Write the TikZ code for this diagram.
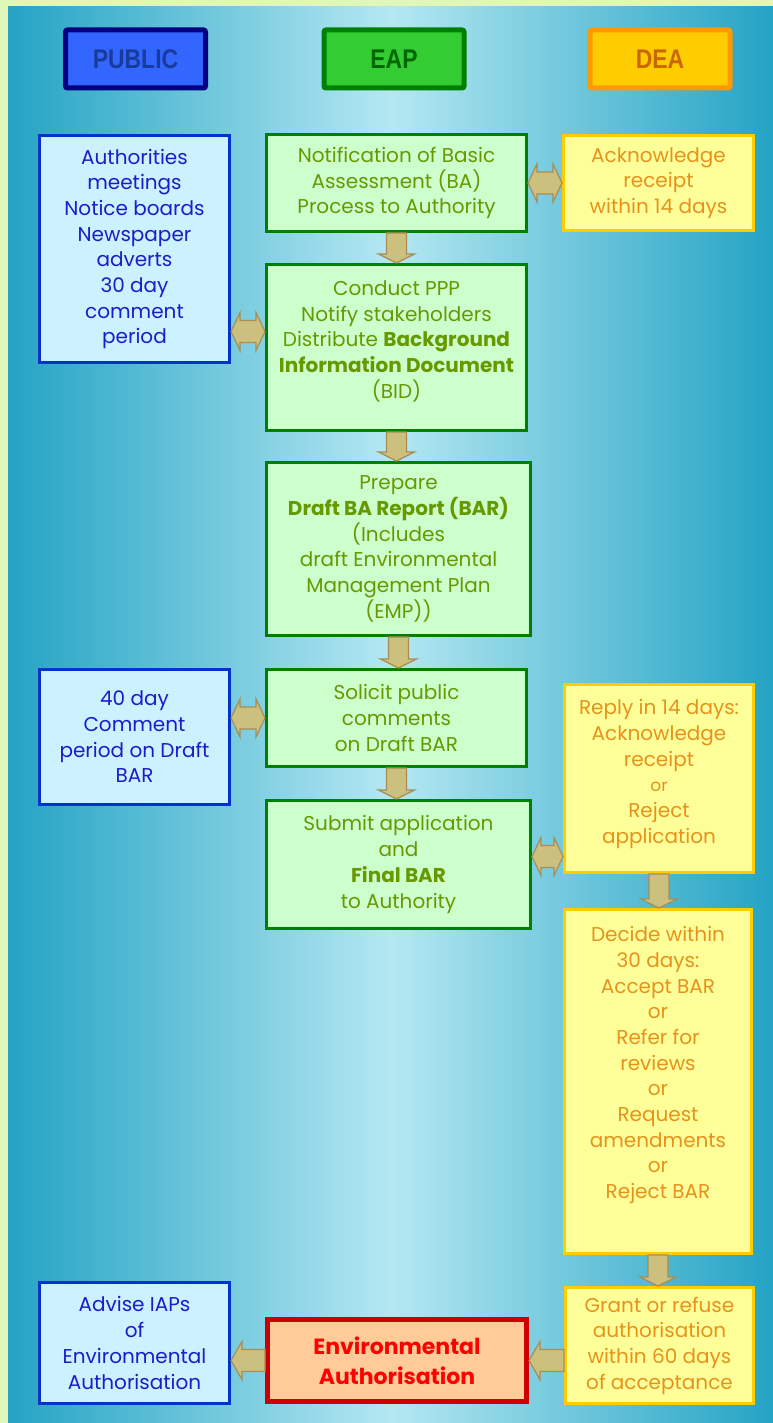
\documentclass[tikz,border=0pt]{standalone}
\usepackage[rgb]{xcolor}
\usepackage{fontspec}
\setmainfont{Poppins}
\newfontfamily\hdfont[FakeStretch=0.85]{Liberation Sans}
\usepackage{tikz}
\usetikzlibrary{calc}

\definecolor{frame}{HTML}{DFF7B8}
\definecolor{sea}{HTML}{24A3C4}
\definecolor{pale}{HTML}{B4E8F2}
\definecolor{hpubfill}{HTML}{3366FF}
\definecolor{hpubline}{HTML}{000080}
\definecolor{hpubtext}{HTML}{173C9C}
\definecolor{heapfill}{HTML}{33CC33}
\definecolor{heaptext}{HTML}{006600}
\definecolor{hdealine}{HTML}{FF9900}
\definecolor{hdeatext}{HTML}{CC6600}
\definecolor{pubfill}{HTML}{CCF2FF}
\definecolor{publine}{HTML}{0033CC}
\definecolor{pubtext}{HTML}{1C1CCB}
\definecolor{eapfill}{HTML}{CCFFCC}
\definecolor{eapline}{HTML}{008000}
\definecolor{eaptext}{HTML}{669900}
\definecolor{deafill}{HTML}{FFFF99}
\definecolor{dealine}{HTML}{FFCC00}
\definecolor{deatext}{HTML}{E6921C}
\definecolor{finfill}{HTML}{FFCC99}
\definecolor{finline}{HTML}{CC0000}
\definecolor{blkfill}{HTML}{CCC07F}
\definecolor{blkline}{HTML}{A88D55}

% block arrows: down (top, tip), double (left tip, right tip), left (tail, tip)
\newcommand{\dnblk}[2]{\filldraw[blk] ($(#1)+(-10,0)$) -- ($(#2)+(-10,-9)$) -- ($(#2)+(-18,-9)$) -- (#2)
  -- ($(#2)+(18,-9)$) -- ($(#2)+(10,-9)$) -- ($(#1)+(10,0)$) -- cycle;}
\newcommand{\dblblk}[2]{\filldraw[blk] (#1) -- ($(#1)+(9,-19)$) -- ($(#1)+(9,-11)$) -- ($(#2)+(-9,-11)$)
  -- ($(#2)+(-9,-19)$) -- (#2) -- ($(#2)+(-9,19)$) -- ($(#2)+(-9,11)$) -- ($(#1)+(9,11)$) -- ($(#1)+(9,19)$) -- cycle;}
\newcommand{\ltblk}[2]{\filldraw[blk] ($(#1)+(0,-11)$) -- ($(#2)+(11,-11)$) -- ($(#2)+(11,-19)$) -- (#2)
  -- ($(#2)+(11,19)$) -- ($(#2)+(11,11)$) -- ($(#1)+(0,11)$) -- cycle;}

\begin{document}
\begin{tikzpicture}[x=1pt, y=-1pt,
  hdbox/.style={draw, line width=5pt, rounded corners=2pt, minimum width=140pt, minimum height=58pt,
    font=\hdfont\bfseries\fontsize{27}{30}\selectfont},
  box/.style={draw, line width=3pt, align=center, inner sep=0pt, font=\fontsize{20}{25.7}\selectfont},
  pubbox/.style={box, draw=publine, fill=pubfill, text=pubtext, minimum width=190pt},
  eapbox/.style={box, draw=eapline, fill=eapfill, text=eaptext},
  deabox/.style={box, draw=dealine, fill=deafill, text=deatext},
  blk/.style={fill=blkfill, draw=blkline, line width=1.2pt, line join=miter}]

\useasboundingbox (0,0) rectangle (773,1423);

% background
\fill[frame] (0,0) rectangle (773,1423);
\shade[left color=sea, right color=sea, middle color=pale] (8,7) rectangle (773,1423);

% column heads
\node[hdbox, draw=hpubline, fill=hpubfill, text=hpubtext] (hpub) at (135.5,59) {PUBLIC};
\node[hdbox, draw=eapline, fill=heapfill, text=heaptext] (heap) at (394,59) {EAP};
\node[hdbox, draw=hdealine, fill=dealine, text=hdeatext] (hdea) at (660,59) {DEA};

% public column
\node[pubbox, minimum height=227pt] (p1) at (134.5,249)
  {Authorities\\meetings\\Notice boards\\Newspaper\\adverts\\30 day\\comment\\period};
\node[pubbox, minimum height=135pt] (p2) at (134.5,737)
  {40 day\\Comment\\period on Draft\\BAR};
\node[pubbox, minimum height=121pt] (p3) at (134.5,1343)
  {Advise IAPs\\of\\Environmental\\Authorisation};

% EAP column
\node[eapbox, minimum width=260pt, minimum height=97pt] (e1) at (396.5,183)
  {Notification of Basic\\Assessment (BA)\\Process to Authority};
\node[eapbox, minimum width=260pt, minimum height=166pt] (e2) at (396.5,347.5)
  {Conduct PPP\\Notify stakeholders\\Distribute \textbf{Background}\\\textbf{Information Document}\\(BID)\rule[-16pt]{0pt}{16pt}};
\node[eapbox, minimum width=264pt, minimum height=173pt] (e3) at (398.5,549)
  {Prepare\\\textbf{Draft BA Report (BAR)}\\(Includes\\draft Environmental\\Management Plan\\(EMP))};
\node[eapbox, minimum width=260pt, minimum height=97pt] (e4) at (396.5,718)
  {Solicit public\\comments\\on Draft BAR};
\node[eapbox, minimum width=264pt, minimum height=128pt] (e5) at (398.5,864.5)
  {Submit application\\and\\\textbf{Final BAR}\\to Authority};
\node[box, draw=finline, fill=finfill, text=red, line width=5pt,
  minimum width=259pt, minimum height=82pt, font=\bfseries\fontsize{22}{30}\selectfont] (fin) at (397,1360.5)
  {Environmental\\Authorisation};

% DEA column
\node[deabox, minimum width=190pt, minimum height=95pt] (d1) at (658.5,183)
  {Acknowledge\\receipt\\within 14 days};
\node[deabox, minimum width=189pt, minimum height=188pt] (d2) at (659,778.5)
  {Reply in 14 days:\\Acknowledge\\receipt\\{\fontsize{17}{25.7}\selectfont or}\\Reject\\application\rule[-14pt]{0pt}{14pt}};
\node[deabox, minimum width=187pt, minimum height=344pt] (d3) at (658,1081.5)
  {Decide within\\30 days:\\Accept BAR\\or\\Refer for\\reviews\\or\\Request\\amendments\\or\\Reject BAR\rule[-38pt]{0pt}{38pt}};
\node[deabox, minimum width=188pt, minimum height=116pt] (d4) at (659.5,1345.5)
  {Grant or refuse\\authorisation\\within 60 days\\of acceptance};

% down arrows
\foreach \a/\b in {e1/e2, e2/e3, e3/e4, e4/e5, d2/d3, d3/d4}
  {\dnblk{\a.south}{\a.south |- \b.north}}

% side arrows
\coordinate (pe2) at ($(e2.west)+(0,-16)$);
\dblblk{p1.east |- pe2}{pe2}
\dblblk{e1.east}{d1.west}
\dblblk{p2.east |- e4.west}{e4.west}
\coordinate (ed2) at ($(e5.east)+(0,-8)$);
\dblblk{ed2}{d2.west |- ed2}
\ltblk{d4.west |- fin.east}{fin.east}
\ltblk{fin.west}{p3.east |- fin.west}

\end{tikzpicture}
\end{document}
